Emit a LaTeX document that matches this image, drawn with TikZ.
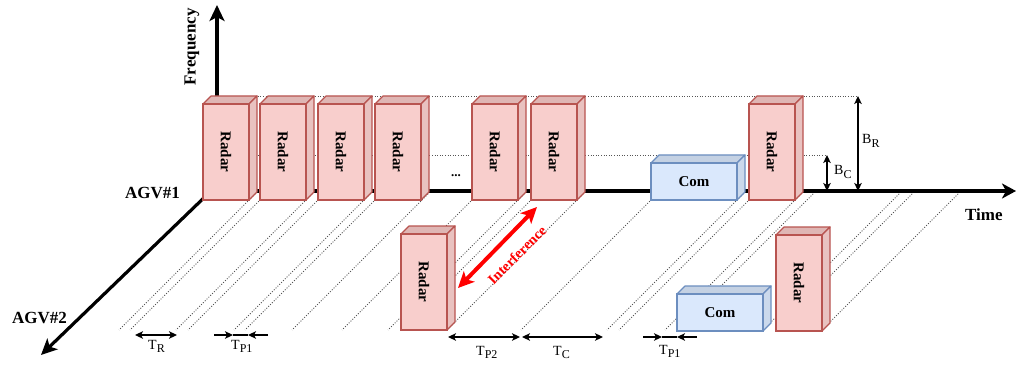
\documentclass[tikz,border=0pt]{standalone}
\usepackage{fontspec}
\setmainfont{Liberation Serif}
\usetikzlibrary{arrows.meta}
\definecolor{rfill}{HTML}{F8CECC}
\definecolor{rline}{HTML}{B85450}
\definecolor{rtop}{HTML}{DFB6B4}
\definecolor{rside}{HTML}{E9C2C0}
\definecolor{cfill}{HTML}{DAE8FC}
\definecolor{cline}{HTML}{6C8EBF}
\definecolor{ctop}{HTML}{C4D1E3}
\definecolor{cside}{HTML}{CBD9EC}
\definecolor{dotgray}{HTML}{555555}
\tikzset{
  axisline/.style={line width=3.2pt, -{Stealth[length=16pt,width=15pt,inset=4pt]}},
  dimline/.style={line width=1.2pt, {Stealth[length=8pt,width=7.5pt,inset=2pt]}-{Stealth[length=8pt,width=7.5pt,inset=2pt]}},
  halfdim/.style={line width=1.2pt, -{Stealth[length=8pt,width=7.5pt,inset=2pt]}},
  diag/.style={draw=dotgray, line width=0.8pt, dash pattern=on 1pt off 1.6pt},
  hdot/.style={draw=dotgray, line width=0.8pt, dash pattern=on 1pt off 1.6pt},
  boxtext/.style={font=\fontsize{15}{15}\selectfont\bfseries, inner sep=0pt},
  axislabel/.style={font=\fontsize{17}{17}\selectfont\bfseries, inner sep=0pt},
  dimlabel/.style={font=\fontsize{14}{14}\selectfont, inner sep=0pt, anchor=base west},
}
% name, x, ybottom, width, height, colour prefix
\newcommand\mycube[6]{%
  \path[fill=#6top, draw=#6line, line width=1.2pt, line join=round]
    (#2,#3-#5) -- ++(8,-8) -- ++(#4,0) -- ++(-8,8) -- cycle;
  \path[fill=#6side, draw=#6line, line width=1.2pt, line join=round]
    (#2+#4,#3-#5) -- ++(8,-8) -- ++(0,#5) -- ++(-8,8) -- cycle;
  \node[draw=#6line, fill=#6fill, line width=1.2pt, minimum width=#4pt, minimum height=#5pt,
        inner sep=0pt, outer sep=0pt, anchor=south west] (#1) at (#2,#3) {};
}
\newcommand\subT[2]{#1\raisebox{-3.5pt}{\fontsize{12}{12}\selectfont #2}}
\begin{document}
\begin{tikzpicture}[x=1pt,y=-1pt]
\useasboundingbox (0,0) rectangle (1017,366);

% diagonal projection lines
\foreach \X in {249,260,306,318,364,375,422,472,518,531,577,651,737,749,795,807,893,906,952}
  \draw[diag] (\X+8,192) -- (\X-130,330);

% horizontal dotted band lines
\coordinate (brTop) at (858,96);
\coordinate (brBot) at (858,191);
\coordinate (bcTop) at (827,155);
\coordinate (bcBot) at (827,191);
\draw[hdot] (211,96) -- (brTop);
\draw[hdot] (211,155) -- (bcTop);

% axes
\coordinate (O) at (211,191);
\coordinate (Of) at (217,191);
\coordinate (timeEnd) at (1016,191);
\coordinate (freqEnd) at (217,5);
\coordinate (agvEnd) at (41,355);
\draw[axisline, -{Stealth[length=14pt,width=15pt,inset=4pt]}] (O) -- (timeEnd);
\draw[axisline] (Of) -- (freqEnd);
\draw[axisline] (O) -- (agvEnd);

% AGV#1 boxes
\mycube{r1}{203}{200}{46}{96}{r}
\mycube{r2}{260}{200}{46}{96}{r}
\mycube{r3}{318}{200}{46}{96}{r}
\mycube{r4}{375}{200}{46}{96}{r}
\mycube{r5}{472}{200}{46}{96}{r}
\mycube{r6}{531}{200}{46}{96}{r}
\mycube{c1}{651}{200}{86}{37}{c}
\mycube{r7}{749}{200}{46}{96}{r}

% AGV#2 boxes
\mycube{r8}{401}{330}{46}{96}{r}
\mycube{c2}{677}{331}{86}{37}{c}
\mycube{r9}{776}{331}{46}{96}{r}

% box texts
\foreach \b in {r1,r2,r3,r4,r5,r6,r7,r8,r9}
  \node[boxtext, rotate=-90] (\b t) at (\b.center) {Radar};
\node[boxtext] (c1t) at (c1.center) {Com};
\node[boxtext] (c2t) at (c2.center) {Com};
\node[font=\fontsize{13}{13}\selectfont\bfseries, inner sep=0pt] (dots) at (456,176) {...};

% axis labels
\node[axislabel, rotate=90] (freqlab) at (192,47) {Frequency};
\node[axislabel, anchor=east] (agv1) at (180,193) {AGV\#1};
\node[axislabel, anchor=west] (agv2) at (12,318) {AGV\#2};
\node[axislabel, anchor=west] (timelab) at (965,215) {Time};

% bandwidth arrows
\draw[dimline] (brTop) -- (brBot);
\draw[dimline] (bcTop) -- (bcBot);
\node[dimlabel] (BR) at (862,144) {\subT{B}{R}};
\node[dimlabel] (BC) at (834,175) {\subT{B}{C}};

% interference
\coordinate (ifA) at (458,288);
\coordinate (ifB) at (537,207);
\draw[draw=red, line width=4pt, {Stealth[length=16pt,width=15pt,inset=4pt]}-{Stealth[length=16pt,width=15pt,inset=4pt]}] (ifA) -- (ifB);
\node[font=\fontsize{14.5}{14.5}\selectfont\bfseries, text=red, rotate=45, inner sep=0pt] (iflab) at (517,255) {Interference};

% time intervals
\coordinate (trA) at (135,335);
\coordinate (trB) at (177,335);
\draw[dimline] (trA) -- (trB);
\node[dimlabel] (TR) at (148,349) {\subT{T}{R}};

\coordinate (tp1a) at (214,335);
\coordinate (tp1b) at (233,335);
\coordinate (tp1c) at (248,335);
\coordinate (tp1d) at (268,335);
\draw[line width=1.2pt] (tp1b) -- (tp1c);
\draw[halfdim] (tp1a) -- (tp1b);
\draw[halfdim] (tp1d) -- (tp1c);
\node[dimlabel] (TP1) at (231,349) {\subT{T}{P1}};

\coordinate (tp2A) at (448,337);
\coordinate (tp2B) at (520,337);
\draw[dimline] (tp2A) -- (tp2B);
\node[dimlabel] (TP2) at (476,355) {\subT{T}{P2}};

\coordinate (tcA) at (522,337);
\coordinate (tcB) at (603,337);
\draw[dimline] (tcA) -- (tcB);
\node[dimlabel] (TC) at (553,355) {\subT{T}{C}};

\coordinate (tq1a) at (643,337);
\coordinate (tq1b) at (662,337);
\coordinate (tq1c) at (677,337);
\coordinate (tq1d) at (697,337);
\draw[line width=1.2pt] (tq1b) -- (tq1c);
\draw[halfdim] (tq1a) -- (tq1b);
\draw[halfdim] (tq1d) -- (tq1c);
\node[dimlabel] (TP1b) at (659,354) {\subT{T}{P1}};
\end{tikzpicture}
\end{document}
